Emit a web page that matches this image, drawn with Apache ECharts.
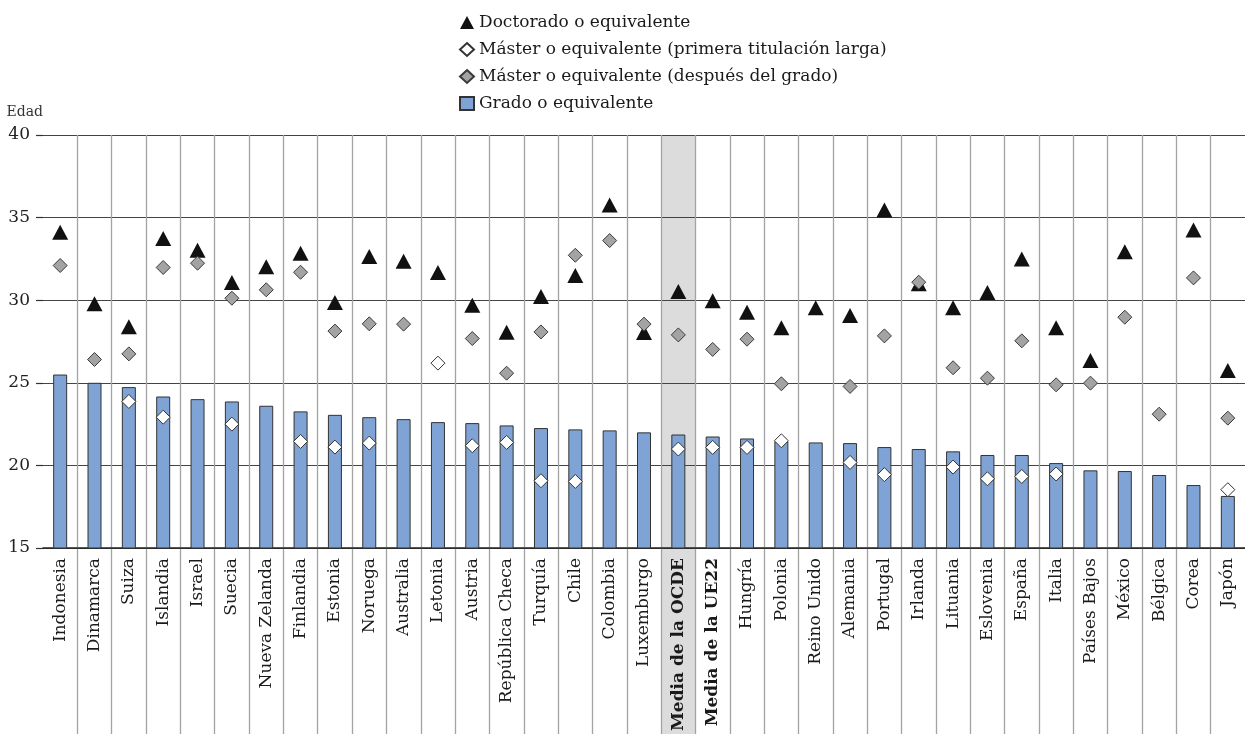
<!DOCTYPE html>
<html><head><meta charset="utf-8">
<script src="https://cdn.jsdelivr.net/npm/echarts@6/dist/echarts.min.js"></script>
<style>html,body{margin:0;padding:0;background:#fff}#c{width:1245px;height:734px}</style>
</head><body><div id="c"></div>
<script>
const categories = ['Indonesia','Dinamarca','Suiza','Islandia','Israel','Suecia','Nueva Zelanda','Finlandia','Estonia','Noruega','Australia','Letonia','Austria','República Checa','Turquía','Chile','Colombia','Luxemburgo','Media de la OCDE','Media de la UE22','Hungría','Polonia','Reino Unido','Alemania','Portugal','Irlanda','Lituania','Eslovenia','España','Italia','Países Bajos','México','Bélgica','Corea','Japón'];
const boldCategories = ['Media de la OCDE','Media de la UE22'];
const highlightCategory = 'Media de la OCDE';

const grado = [25.5,25.0,24.74,24.17,24.01,23.87,23.61,23.27,23.06,22.92,22.80,22.62,22.56,22.42,22.26,22.18,22.12,22.0,21.87,21.75,21.63,21.45,21.39,21.35,21.11,20.99,20.85,20.63,20.63,20.14,19.70,19.66,19.42,18.81,18.15];
const doctorado = [34.11,29.78,28.39,33.73,33.02,31.07,32.02,32.84,29.86,32.64,32.36,31.67,29.70,28.06,30.22,31.49,35.77,28.04,30.52,29.96,29.27,28.33,29.54,29.07,35.46,31.0,29.54,30.46,32.50,28.33,26.35,32.94,null,34.25,25.75];
const masterPrimera = [null,null,23.87,22.92,null,22.50,null,21.45,21.11,21.35,null,26.19,21.19,21.39,19.07,19.03,null,null,20.99,21.09,21.09,21.49,null,20.18,19.44,null,19.90,19.19,19.33,19.48,null,null,null,null,18.53];
const masterDespues = [32.10,26.41,26.75,31.98,32.24,30.12,30.63,31.69,28.13,28.57,28.55,null,27.68,25.58,28.08,32.72,33.61,28.55,27.90,27.02,27.64,24.94,null,24.78,27.84,31.09,25.91,25.28,27.54,24.88,24.98,28.97,23.10,31.35,22.86];

const yMin = 15, yMax = 40, yInterval = 5;
const seriesNames = ['Doctorado o equivalente','Máster o equivalente (primera titulación larga)','Máster o equivalente (después del grado)','Grado o equivalente'];

const FONT = 'DejaVu Serif';
const highlight = categories.map(c => c === highlightCategory ? 1 : null);

const chart = echarts.init(document.getElementById('c'), null, {renderer:'canvas'});
chart.setOption({
  animation:false,
  backgroundColor:'#fff',
  legend:{
    orient:'vertical', left:454, top:9,
    itemWidth:14, itemHeight:13, itemGap:10,
    textStyle:{fontFamily:FONT, fontSize:17, color:'#1a1a1a'},
    data:[
      {name:seriesNames[0], icon:'triangle'},
      {name:seriesNames[1], icon:'diamond'},
      {name:seriesNames[2], icon:'diamond'},
      {name:seriesNames[3], icon:'rect'}
    ],
    selectedMode:false
  },
  grid:[
    {left:43, right:0, top:135, bottom:0},
    {left:43, right:0, top:135, bottom:186}
  ],
  xAxis:[
    {gridIndex:0, type:'category', data:categories,
     axisLine:{show:false}, axisTick:{show:false}, axisLabel:{show:false},
     splitLine:{show:true, showMinLine:false, showMaxLine:false, interval:0, lineStyle:{color:'#a3a3a3', width:1.3}}},
    {gridIndex:1, type:'category', data:categories,
     axisLine:{show:true, onZero:false, lineStyle:{color:'#222', width:1.5}},
     axisTick:{show:false}, splitLine:{show:false},
     axisLabel:{interval:0, rotate:90, margin:10, fontFamily:FONT, fontSize:17, color:'#1a1a1a',
       formatter: v => boldCategories.includes(v) ? '{b|' + v + '}' : v,
       rich:{b:{fontFamily:FONT, fontSize:17, fontWeight:'bold', color:'#1a1a1a'}}}}
  ],
  yAxis:[
    {gridIndex:0, type:'value', min:0, max:1, show:false},
    {gridIndex:1, type:'value', min:yMin, max:yMax, interval:yInterval,
     name:'Edad', nameLocation:'end', nameGap:23,
     nameTextStyle:{fontFamily:FONT, fontSize:14, color:'#333', align:'right', verticalAlign:'middle'},
     axisLine:{show:false},
     axisTick:{show:true, length:7, lineStyle:{color:'#333', width:1.2}},
     axisLabel:{margin:13, fontFamily:FONT, fontSize:17, color:'#222'},
     splitLine:{show:true, lineStyle:{color:'#444', width:1.2}}}
  ],
  series:[
    {type:'bar', xAxisIndex:0, yAxisIndex:0, data:highlight, barWidth:'100%',
     itemStyle:{color:'#dcdcdc'}, z:-1, silent:true},
    {name:seriesNames[3], type:'bar', xAxisIndex:1, yAxisIndex:1, data:grado, barWidth:14,
     itemStyle:{color:'#80a3d5', borderColor:'#333', borderWidth:1}},
    {name:seriesNames[0], type:'scatter', xAxisIndex:1, yAxisIndex:1, data:doctorado,
     symbol:'triangle', symbolSize:[16,15], itemStyle:{color:'#111', opacity:1}},
    {name:seriesNames[1], type:'scatter', xAxisIndex:1, yAxisIndex:1, data:masterPrimera,
     symbol:'diamond', symbolSize:14, itemStyle:{color:'#ffffff', borderColor:'#333', borderWidth:1, opacity:1}},
    {name:seriesNames[2], type:'scatter', xAxisIndex:1, yAxisIndex:1, data:masterDespues,
     symbol:'diamond', symbolSize:14, itemStyle:{color:'#a3a3a3', borderColor:'#3a3a3a', borderWidth:1, opacity:1}}
  ]
});
</script></body></html>
